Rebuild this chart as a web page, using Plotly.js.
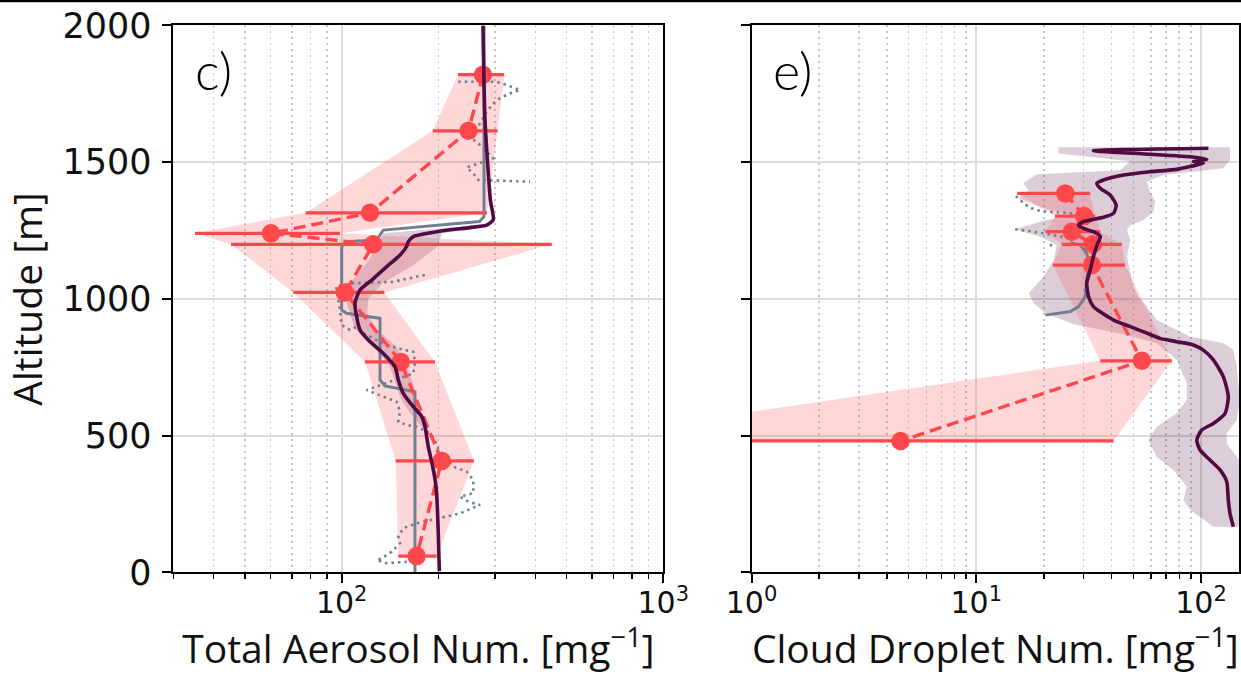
<!DOCTYPE html>
<html>
<head>
<meta charset="utf-8">
<script src="https://cdn.plot.ly/plotly-3.0.1.min.js"></script>
<style>html,body{margin:0;padding:0;background:#fff;}#chart{width:1241px;height:674px;}</style>
</head>
<body>
<div id="chart"></div>
<script>
// ---------- Panel c) Total aerosol number ----------
var obsAlt_c = [1820, 1615, 1315, 1240, 1200, 1024, 770, 408, 60];
var obsN_c   = [275, 248, 122.5, 60.3, 125.4, 102.4, 152.6, 204.7, 171];
var obsLo_c  = [230, 192, 77.3, 35, 45.3, 70.7, 118.2, 147.2, 150];
var obsHi_c  = [320, 305, 283, 98.8, 450, 135.7, 195, 257.8, 197.4];

var modAlt_c = [2000, 1654, 1361, 1289, 1270, 1261, 1248, 1228, 1209, 1191, 1161, 1118, 1069, 1033, 985, 935, 887, 850, 801, 752, 704, 655, 606, 570, 533, 460, 387, 314, 241, 143, 5];
var modN_c   = [275, 279, 290, 296, 282, 250, 202, 167, 161, 159, 152, 138, 124, 114, 110, 111.3, 114, 121, 134.7, 146.5, 150, 155.4, 167, 177.4, 181.6, 185.9, 191.9, 196.5, 198.3, 199.7, 201.2];

var bandAlt_c = [1265, 1240, 1190, 1120, 1058, 1000, 948, 890, 826, 760, 704, 640, 583, 530];
var bandLo_c  = [240, 135, 129, 118, 106, 103, 106, 110, 126, 140, 146, 152, 163, 178];
var bandHi_c  = [292, 205, 198, 165, 134, 121, 120, 128, 148, 158, 165, 170, 178, 184];

var grayAlt_c = [2000, 1301, 1283, 1252, 1234, 1216, 1209, 1191, 960, 948, 929, 704, 682, 661, 0];
var grayN_c   = [277, 277, 268, 134.7, 131.6, 128.5, 103.6, 100, 100, 103.6, 131.6, 131.6, 136.3, 169, 169];

var dotAlt_c = [1794, 1794, 1782, 1764, 1752, 1734, 1715, 1685, 1654, 1618, 1587, 1569, 1551, 1526, 1514, 1481, 1459, 1435, 1429, null,
                1088, 1063, 1057, 1047, 960, 905, 887, 899, 875, 843, 820, 807, 771, 728, 667, 624, 588, 551, 539, 533, 509, 484, 460, 387, 369, 338, 290, 277, 259, 247, 216, 198, 180, 162, 131, 107, 76, 52, 46, 34, 39];
var dotN_c   = [230.4, 303.4, 326, 358.4, 333.8, 310.6, 296.1, 282.4, 272.5, 263, 253.7, 266, 275.7, 289.2, 296, 244.7, 256.6, 266, 385, null,
                181.5, 144.4, 107.4, 96, 98.8, 100, 106.1, 111.3, 116.7, 131.6, 148.3, 167, 169, 167, 119.6, 148.3, 151.8, 150, 159.3, 171.1, 188.2, 195, 197.4, 222.3, 244.7, 256.6, 256.6, 233.2, 247.6, 269.2, 233.2, 197.4, 171.1, 155.4, 150, 151.8, 143.1, 133.2, 128.5, 138, 161.1];

// ---------- Panel e) Cloud droplet number ----------
var obsAlt_e = [1386, 1303, 1246, 1200, 1124, 774, 481];
var obsN_e   = [24.9, 30.2, 26.6, 33.0, 32.7, 54.5, 4.6];
var obsLo_e  = [15.2, 22.4, 20.3, 24.0, 21.9, 35.6, 0.13];
var obsHi_e  = [32.1, 33.8, 35.6, 44.4, 45.9, 74.1, 40.8];

var modAlt_e = [1551, 1542, 1520, 1511, 1502, 1496, 1484, 1474, 1465, 1453, 1435, 1423, 1405, 1380, 1344, 1313, 1299, 1283, 1270, 1258, 1246, 1228, 1197, 1155, 1106, 1057, 1008, 972, 953, 923, 899, 875, 856, 844, 832, 813, 777, 716, 643, 582, 545, 521, 484, 448, 411, 375, 332, 265, 216, 167];
var modN_e   = [107.8, 33.2, 89.4, 106, 92.4, 102.4, 89.4, 78, 59.3, 45.2, 36.8, 34.4, 35.6, 39.4, 41.9, 40.8, 36.8, 30, 28.5, 30, 33.2, 35.6, 34.4, 33.2, 32.1, 31, 31.6, 33.2, 35.6, 40.8, 48.4, 57.4, 65.7, 78, 92.4, 102.4, 113.4, 125.6, 132.2, 127.9, 113.4, 100.7, 95.7, 99, 109.6, 121.5, 130.1, 132.2, 134.5, 139.2];

var bandLoAlt_e = [1555, 1532, 1504, 1471, 1456, 1423, 1398, 1368, 1332, 1307, 1283, 1255, 1228, 1197, 1143, 1081, 1021, 984, 948, 908, 871, 838, 777, 692, 631, 582, 533, 484, 423, 375, 314, 265, 229, 167];
var bandLo_e    = [23.2, 23.2, 48.4, 43.6, 18.6, 16.2, 17.1, 15.4, 19.9, 26.2, 19.3, 14.9, 19.3, 22.8, 22.1, 19.9, 17.1, 18.0, 20.3, 27.1, 45.2, 63.5, 78, 86.4, 86.4, 78, 63.5, 58.3, 63.5, 75.3, 86.4, 83.4, 89.4, 113.4];
var bandHiAlt_e = [1555, 1542, 1508, 1478, 1465, 1453, 1429, 1392, 1356, 1319, 1289, 1270, 1252, 1216, 1155, 1094, 1045, 1008, 972, 923, 887, 862, 838, 814, 752, 631, 558, 509, 472, 423, 387, 167];
var bandHi_e    = [134.5, 134.5, 134.5, 125.6, 89.4, 68, 57.4, 59.3, 62.5, 61.4, 55.4, 48.4, 46.8, 48.4, 46.8, 48.4, 50, 52.6, 57.4, 63.5, 78, 89.4, 125.6, 139.2, 144.1, 149, 144.1, 130.1, 130.1, 144.1, 157, 165];

var grayAlt_e = [1206, 1197, 1167, 1130, 1069, 1008, 972, 954, 941];
var grayN_e   = [26.2, 29.0, 31.0, 31.6, 31.0, 30.5, 28.5, 26.2, 20.3];

var dotAlt_e = [1376, 1368, 1351, 1333, 1322, 1318, 1314, 1312, 1311, null, 1255, 1252, 1246, 1240, 1234, 1228, 1222, null, 1197, 1197];
var dotN_e   = [15.0, 15.4, 16.2, 17.4, 19.3, 21.7, 24.4, 27.5, 31.0, null, 14.9, 16.2, 18.0, 19.9, 22.1, 23.6, 26.2, null, 21.2, 22.6];

// ---------- Axis ticks ----------
var altTicks = [0, 500, 1000, 1500, 2000];
var cTickVals = [100, 1000];
var cTickText = ['10<sup>2</sup>', '10<sup>3</sup>'];
var cMinorVals = [30, 40, 50, 60, 70, 80, 90, 200, 300, 400, 500, 600, 700, 800, 900];
var eTickVals = [1, 10, 100];
var eTickText = ['10<sup>0</sup>', '10<sup>1</sup>', '10<sup>2</sup>'];
var eMinorVals = [2, 3, 4, 5, 6, 7, 8, 9, 20, 30, 40, 50, 60, 70, 80, 90];

// ---------- Styles ----------
var RED = '#ff474c', RED_FILL = 'rgba(255,71,76,0.22)';
var PURPLE = '#520a42', PURPLE_FILL = 'rgba(82,10,66,0.20)';
var GRAY = '#708090';

function poly(loX, loY, hiX, hiY) {
  return {x: loX.concat(hiX.slice().reverse()), y: loY.concat(hiY.slice().reverse())};
}
function errPlus(v, hi) { return v.map(function (d, i) { return hi[i] - d; }); }
function errMinus(v, lo) { return v.map(function (d, i) { return d - lo[i]; }); }

function panelTraces(xa, ya, o) {
  var tr = [];
  var b = poly(o.bandLo, o.bandLoAlt, o.bandHi, o.bandHiAlt);
  tr.push({x: b.x, y: b.y, xaxis: xa, yaxis: ya, type: 'scatter', mode: 'lines', fill: 'toself',
    fillcolor: PURPLE_FILL, line: {width: 0}, hoverinfo: 'skip', showlegend: false});
  var s = poly(o.obsLo, o.obsAlt, o.obsHi, o.obsAlt);
  tr.push({x: s.x, y: s.y, xaxis: xa, yaxis: ya, type: 'scatter', mode: 'lines', fill: 'toself',
    fillcolor: RED_FILL, line: {width: 0}, hoverinfo: 'skip', showlegend: false});
  tr.push({x: o.grayN, y: o.grayAlt, xaxis: xa, yaxis: ya, type: 'scatter', mode: 'lines',
    line: {color: GRAY, width: 3}, showlegend: false});
  tr.push({x: o.dotN, y: o.dotAlt, xaxis: xa, yaxis: ya, type: 'scatter', mode: 'lines', connectgaps: false,
    line: {color: GRAY, width: 2.6, dash: '2.5px,4px'}, showlegend: false});
  tr.push({x: o.obsN, y: o.obsAlt, xaxis: xa, yaxis: ya, type: 'scatter', mode: 'lines+markers',
    line: {color: RED, width: 3.4, dash: '12px,6px'},
    marker: {color: RED, size: 18.5},
    error_x: {type: 'data', symmetric: false, array: errPlus(o.obsN, o.obsHi), arrayminus: errMinus(o.obsN, o.obsLo),
      color: RED, thickness: 3.2, width: 0},
    showlegend: false});
  tr.push({x: o.modN, y: o.modAlt, xaxis: xa, yaxis: ya, type: 'scatter', mode: 'lines',
    line: {color: PURPLE, width: 3.6, shape: 'spline', smoothing: 0.6}, showlegend: false});
  return tr;
}

var data = []
  .concat(panelTraces('x', 'y', {
    bandLo: bandLo_c, bandLoAlt: bandAlt_c, bandHi: bandHi_c, bandHiAlt: bandAlt_c,
    obsLo: obsLo_c, obsHi: obsHi_c, obsN: obsN_c, obsAlt: obsAlt_c,
    grayN: grayN_c, grayAlt: grayAlt_c, dotN: dotN_c, dotAlt: dotAlt_c,
    modN: modN_c, modAlt: modAlt_c}))
  .concat(panelTraces('x2', 'y2', {
    bandLo: bandLo_e, bandLoAlt: bandLoAlt_e, bandHi: bandHi_e, bandHiAlt: bandHiAlt_e,
    obsLo: obsLo_e, obsHi: obsHi_e, obsN: obsN_e, obsAlt: obsAlt_e,
    grayN: grayN_e, grayAlt: grayAlt_e, dotN: dotN_e, dotAlt: dotAlt_e,
    modN: modN_e, modAlt: modAlt_e}));

var YTICKFONT = {family: 'DejaVu Sans', size: 35, color: '#111'};
var XTICKFONT = {family: 'DejaVu Sans', size: 30, color: '#111'};
var TITLEFONT = {family: 'Open Sans', size: 39, color: '#111'};
var GRID = '#d9ddd6', MINORGRID = '#c6c6c6';

function xAxis(domain, range, tv, tt, mv, anchor, title) {
  return {
    type: 'log', domain: domain, range: range, anchor: anchor,
    showline: true, linecolor: '#000', linewidth: 2, mirror: true,
    ticks: 'outside', ticklen: 9, tickwidth: 2, tickcolor: '#000',
    tickmode: 'array', tickvals: tv, ticktext: tt, tickfont: XTICKFONT, ticklabelstandoff: -6,
    showgrid: true, gridcolor: GRID, gridwidth: 2, zeroline: false,
    minor: {tickmode: 'array', tickvals: mv, ticks: 'outside', ticklen: 5, tickwidth: 1.5, tickcolor: '#000',
      showgrid: true, gridcolor: MINORGRID, gridwidth: 1.6, griddash: '1.6px,4.4px'},
    title: {text: title, font: TITLEFONT, standoff: 12},
    automargin: false, fixedrange: true
  };
}
function yAxis(anchor, showLabels, title) {
  return {
    domain: [0.1506, 0.9622], range: [0, 2000], anchor: anchor,
    showline: true, linecolor: '#000', linewidth: 2, mirror: true,
    ticks: 'outside', ticklen: 9, tickwidth: 2, tickcolor: '#000',
    tickmode: 'array', tickvals: altTicks, showticklabels: showLabels, tickfont: YTICKFONT, ticklabelstandoff: 4,
    showgrid: true, gridcolor: GRID, gridwidth: 2, zeroline: false,
    title: title ? {text: title, font: TITLEFONT, standoff: 14} : {text: ''},
    automargin: false, fixedrange: true
  };
}

var layout = {
  width: 1241, height: 674,
  margin: {l: 0, r: 0, t: 0, b: 0},
  paper_bgcolor: '#fff', plot_bgcolor: '#fff',
  showlegend: false,
  xaxis: xAxis([0.1398, 0.5345], [Math.log10(30), 3], cTickVals, cTickText, cMinorVals, 'y',
    'Total Aerosol Num. [mg<sup>\u22121</sup>]'),
  yaxis: yAxis('x', true, 'Altitude [m]'),
  xaxis2: xAxis([0.6056, 0.9986], [0, 2.17], eTickVals, eTickText, eMinorVals, 'y2',
    'Cloud Droplet Num. [mg<sup>\u22121</sup>]'),
  yaxis2: yAxis('x2', false, ''),
  annotations: [
    {text: 'c)', xref: 'paper', yref: 'paper', x: 193 / 1241, y: 1 - 70 / 674, xanchor: 'left', yanchor: 'middle',
      showarrow: false, font: {family: 'Lato', size: 52, weight: 300, color: '#000'}},
    {text: 'e)', xref: 'paper', yref: 'paper', x: 771 / 1241, y: 1 - 70 / 674, xanchor: 'left', yanchor: 'middle',
      showarrow: false, font: {family: 'Lato', size: 52, weight: 300, color: '#000'}}
  ],
  shapes: [
    {type: 'line', xref: 'paper', yref: 'paper', x0: 0, x1: 1, y0: 1 - 1 / 674, y1: 1 - 1 / 674,
      line: {color: '#000', width: 2.5}}
  ]
};

Plotly.newPlot('chart', data, layout, {staticPlot: true, displayModeBar: false});
</script>
</body>
</html>
